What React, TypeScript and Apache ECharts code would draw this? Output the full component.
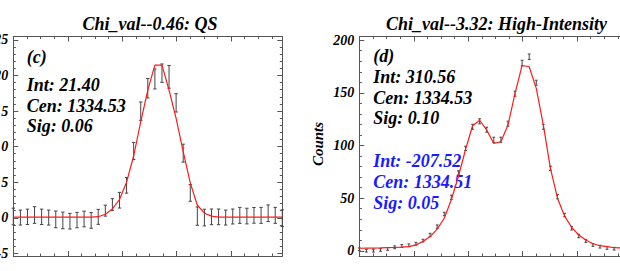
import React, { useEffect, useRef } from 'react';
import * as echarts from 'echarts';

// Wavelength grid (Angstrom), shared by both panels
const wavelengths = [
  1334.0, 1334.026, 1334.052, 1334.078, 1334.104, 1334.13, 1334.156, 1334.182, 1334.208, 1334.234,
  1334.26, 1334.286, 1334.312, 1334.338, 1334.364, 1334.39, 1334.416, 1334.442, 1334.468, 1334.494,
  1334.52, 1334.546, 1334.572, 1334.598, 1334.624, 1334.65, 1334.676, 1334.702, 1334.728, 1334.754,
  1334.78, 1334.806, 1334.832, 1334.858, 1334.884, 1334.91, 1334.936, 1334.962, 1334.988,
];

// Panel (c): QS
const qsCounts = [
  0.18, 0.03, 0.13, 0.39, 0.13, 0.03, -0.22, -0.37, -0.48, -0.32,
  -0.17, -0.37, 0.13, 1.0, 1.86, 2.47, 4.56, 9.39, 14.98, 18.2,
  19.5, 20.32, 19.8, 16.15, 9.08, 3.49, 0.24, 0.03, 0.13, 0.13,
  0.03, 0.18, 0.34, 0.24, 0.34, 0.34, 0.64, 0.34, -0.07,
];
const qsErrors = [
  1.17, 1.05, 1.08, 1.17, 1.08, 1.05, 1.17, 1.17, 1.1, 1.08,
  1.1, 1.1, 1.05, 0.77, 0.82, 1.1, 1.1, 1.2, 1.29, 1.36,
  1.4, 1.29, 1.6, 1.29, 1.26, 1.17, 1.29, 1.17, 1.1, 1.1,
  1.05, 1.05, 1.12, 1.1, 1.1, 1.12, 1.17, 1.12, 1.17,
];
const qsFit = [
  0.1, 0.1, 0.1, 0.1, 0.1, 0.1, 0.1, 0.1, 0.1, 0.1,
  0.1, 0.1, 0.15, 0.49, 1.25, 2.57, 5.0, 8.68, 13.46, 17.93,
  21.45, 21.45, 17.93, 13.96, 9.29, 4.91, 1.76, 0.64, 0.24, 0.1,
  0.1, 0.1, 0.1, 0.1, 0.1, 0.1, 0.1, 0.1, 0.1,
];

// Panel (d): High-Intensity
const hiCounts = [
  1.5, 0.2, 0.2, 0.9, 1.8, 3.4, 4.6, 5.3, 6.8, 9.7,
  15.1, 23.0, 35.0, 50.9, 74.0, 97.3, 117.8, 123.0, 115.0, 105.5,
  105.5, 120.7, 149.2, 178.3, 184.3, 159.6, 117.8, 78.4, 51.4, 34.1,
  21.4, 14.1, 9.4, 5.6, 4.0, 2.8, 2.1, 1.6, 1.2,
];
const hiErrors = [
  1.3, 1.3, 1.3, 1.3, 1.3, 1.3, 1.3, 1.3, 1.3, 1.3,
  1.6, 1.6, 1.6, 2.0, 2.0, 2.0, 2.4, 2.4, 2.4, 2.4,
  2.4, 2.4, 2.4, 2.6, 2.6, 2.4, 2.4, 2.0, 2.0, 1.6,
  1.6, 1.6, 1.3, 1.3, 1.3, 1.3, 1.3, 1.3, 1.3,
];
const hiFit = [
  2.5, 2.6, 2.7, 2.8, 3.0, 3.2, 3.6, 4.1, 5.7, 8.9,
  13.6, 20.6, 31.0, 48.5, 70.6, 96.0, 118.8, 124.0, 114.7, 102.0,
  103.6, 119.4, 149.5, 176.0, 174.8, 154.3, 119.4, 78.4, 50.0, 33.0,
  22.4, 15.1, 10.3, 6.8, 4.9, 4.0, 3.0, 2.8, 2.6,
];

const titles = ['Chi_val--0.46: QS', 'Chi_val--3.32: High-Intensity'];
const qsLabels = ['(c)', 'Int: 21.40', 'Cen: 1334.53', 'Sig: 0.06'];
const hiLabels = ['(d)', 'Int: 310.56', 'Cen: 1334.53', 'Sig: 0.10'];
const hiLabels2 = ['Int: -207.52', 'Cen: 1334.51', 'Sig: 0.05'];
const yAxisName = 'Counts';

const FONT = 'Liberation Serif';
const OFF = 20; // chart is shifted left so that left tick labels are clipped as in the reference
const AXIS_COLOR = '#555';

function App() {
  const ref = useRef<HTMLDivElement>(null);

  useEffect(() => {
    if (!ref.current) return;
    const chart = echarts.init(ref.current, undefined, { renderer: 'svg' });

    const gridTop = 36.5;
    const gridH = 219.5;
    const gridW = 269;
    const lefts = [13.3 + OFF, 359.3 + OFF];

    const xBase = (gi: number, position: 'bottom' | 'top') => ({
      type: 'value',
      gridIndex: gi,
      position,
      min: wavelengths[0],
      max: wavelengths[wavelengths.length - 1],
      interval: 0.2,
      axisLine: { show: true, onZero: false, lineStyle: { color: AXIS_COLOR, width: 1 } },
      axisTick: { show: true, inside: true, length: 5, lineStyle: { color: AXIS_COLOR, width: 1 } },
      minorTick: { show: true, splitNumber: 4, length: 2.5, lineStyle: { color: AXIS_COLOR, width: 1 } },
      axisLabel: { show: false },
      splitLine: { show: false },
      minorSplitLine: { show: false },
    });

    const yBase = (gi: number, position: 'left' | 'right', min: number, max: number, step: number, labels: boolean) => ({
      type: 'value',
      gridIndex: gi,
      position,
      min,
      max,
      minInterval: step,
      maxInterval: step,
      splitNumber: 6,
      axisLine: { show: true, onZero: false, lineStyle: { color: AXIS_COLOR, width: 1 } },
      axisTick: { show: true, inside: true, length: 5, lineStyle: { color: AXIS_COLOR, width: 1 } },
      minorTick: { show: true, splitNumber: 5, length: 2.5, lineStyle: { color: AXIS_COLOR, width: 1 } },
      splitLine: { show: false },
      minorSplitLine: { show: false },
      axisLabel: labels
        ? {
            show: true,
            margin: 5,
            color: '#000',
            fontFamily: FONT,
            fontStyle: 'italic',
            fontWeight: 'bold',
            fontSize: 14,
            formatter: (v: number) => {
              const r = Math.round(v / step);
              return Math.abs(v / step - r) < 1e-6 ? String(r * step) : '';
            },
          }
        : { show: false },
    });

    const errData = (counts: number[], errs: number[]) =>
      wavelengths.map((w, i) => [w, counts[i] - errs[i], counts[i] + errs[i]]);
    const fitData = (fit: number[]) => wavelengths.map((w, i) => [w, fit[i]]);

    const errSeries = (gi: number, data: number[][], cap: number) => ({
      type: 'custom',
      xAxisIndex: gi,
      yAxisIndex: gi,
      data,
      encode: { x: 0, y: [1, 2] },
      z: 2,
      renderItem: (_p: any, api: any) => {
        const x = api.value(0);
        const a = api.coord([x, api.value(1)]);
        const b = api.coord([x, api.value(2)]);
        const style = { stroke: '#444', lineWidth: 1 };
        return {
          type: 'group',
          children: [
            { type: 'line', shape: { x1: a[0], y1: a[1], x2: b[0], y2: b[1] }, style },
            { type: 'line', shape: { x1: a[0] - cap, y1: a[1], x2: a[0] + cap, y2: a[1] }, style },
            { type: 'line', shape: { x1: b[0] - cap, y1: b[1], x2: b[0] + cap, y2: b[1] }, style },
          ],
        };
      },
    });

    const fitSeries = (gi: number, data: number[][]) => ({
      type: 'line',
      xAxisIndex: gi,
      yAxisIndex: gi,
      data,
      showSymbol: false,
      symbol: 'none',
      z: 3,
      lineStyle: { color: '#ff1a1a', width: 1.2 },
    });

    const mkText = (text: string, x: number, y: number, fill: string, size: number, align = 'left', rotation = 0) => ({
      type: 'text',
      x,
      y,
      rotation,
      silent: true,
      style: {
        text,
        fill,
        fontFamily: FONT,
        fontSize: size,
        fontWeight: 'bold',
        fontStyle: 'italic',
        align,
        verticalAlign: 'middle',
      },
    });

    const graphics: any[] = [
      mkText(titles[0], 150 + OFF, 24, '#000', 18, 'center'),
      mkText(titles[1], 496.5 + OFF, 24, '#000', 18, 'center'),
    ];
    const qsY = [56.5, 84.5, 105.5, 126];
    qsLabels.forEach((t, i) => graphics.push(mkText(t, 26.7 + OFF, qsY[i], '#000', 18)));
    const hiY = [56, 76.7, 97.7, 118.3];
    hiLabels.forEach((t, i) => graphics.push(mkText(t, 373.3 + OFF, hiY[i], '#000', 18)));
    const hiY2 = [161, 181.8, 202.5];
    hiLabels2.forEach((t, i) => graphics.push(mkText(t, 373.3 + OFF, hiY2[i], '#1a1aff', 18)));
    graphics.push(mkText(yAxisName, 318 + OFF, 144, '#000', 15, 'center', Math.PI / 2));

    chart.setOption({
      animation: false,
      backgroundColor: '#fff',
      grid: lefts.map((l) => ({ left: l, top: gridTop, width: gridW, height: gridH, containLabel: false })),
      xAxis: [xBase(0, 'bottom'), xBase(1, 'bottom'), xBase(0, 'top'), xBase(1, 'top')],
      yAxis: [
        yBase(0, 'left', -5.37, 25.47, 5, true),
        yBase(1, 'left', -4.86, 203.5, 50, true),
        yBase(0, 'right', -5.37, 25.47, 5, false),
        yBase(1, 'right', -4.86, 203.5, 50, false),
      ],
      series: [
        errSeries(0, errData(qsCounts, qsErrors), 1.7),
        fitSeries(0, fitData(qsFit)),
        errSeries(1, errData(hiCounts, hiErrors), 1.4),
        fitSeries(1, fitData(hiFit)),
      ],
      graphic: graphics,
    });

    return () => chart.dispose();
  }, []);

  return (
    <div style={{ position: 'fixed', left: 0, top: 0, width: 620, height: 271, overflow: 'hidden', background: '#fff' }}>
      <div ref={ref} style={{ position: 'absolute', left: -OFF, top: 0, width: 680, height: 271 }} />
    </div>
  );
}

export default App;
